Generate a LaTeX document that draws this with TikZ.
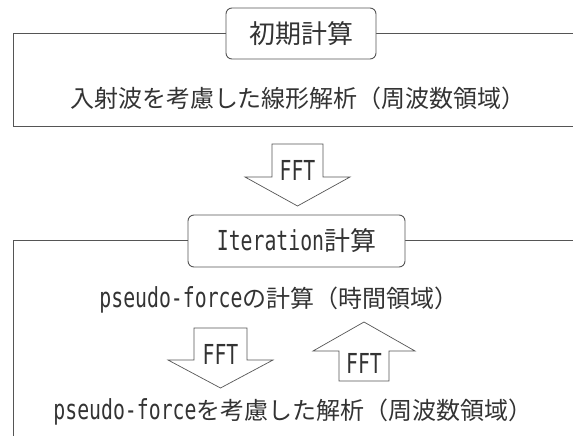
\documentclass[tikz,border=0pt]{standalone}
\usepackage{fontspec}
\setmainfont{Noto Sans CJK JP}
\newfontfamily\latf{DejaVu Sans Mono}[FakeStretch=0.72]
\newcommand\latxt[1]{{\latf\fontsize{27.5}{30}\selectfont #1}}
\definecolor{ln}{HTML}{555555}
\definecolor{tx}{HTML}{333333}
\begin{document}
\begin{tikzpicture}[x=1pt,y=-1pt,
  frame/.style={draw=ln, line width=0.9pt},
  title/.style={draw=ln, line width=0.9pt, fill=white, rounded corners=6pt, text=tx,
                font=\fontsize{26}{30}\selectfont, inner sep=0pt},
  body/.style={text=tx, font=\fontsize{24}{28}\selectfont, inner sep=0pt},
  fftarrow/.style={draw=ln, line width=0.7pt, fill=white, line join=miter},
  fftlabel/.style={text=tx, inner sep=0pt}]
\useasboundingbox (0,0) rectangle (573,436);
\clip (0,0) rectangle (573,436);
% frames (open to the right / bottom)
\draw[frame] (13,33) rectangle (600,126);
\draw[frame] (13,240) rectangle (600,470);
% titles
\node[title, minimum width=150pt, minimum height=51pt] (t1) at (301,33.5) {初期計算};
\node[title, minimum width=217pt, minimum height=52pt] (t2) at (296.5,241) {\latxt{Iteration}計算};
% body texts
\node[body] (b1) at (298,98) {入射波を考慮した線形解析（周波数領域）};
\node[body] (b2) at (279,300) {\latxt{pseudo-force}の計算（時間領域）};
\node[body] (b3) at (293,412) {\latxt{pseudo-force}を考慮した解析（周波数領域）};
% FFT arrows
\draw[fftarrow] (272,144) -- (323,144) -- (323,177) -- (350,177) -- (297.5,206) -- (245,177) -- (272,177) -- cycle;
\node[fftlabel] (f1) at (297.5,170) {\latxt{FFT}};
\draw[fftarrow] (194,328) -- (247,328) -- (247,360) -- (273,360) -- (220.5,388) -- (168,360) -- (194,360) -- cycle;
\node[fftlabel] (f2) at (220.5,354) {\latxt{FFT}};
\draw[fftarrow] (339,381) -- (389,381) -- (389,351) -- (415,351) -- (364,322) -- (313,351) -- (339,351) -- cycle;
\node[fftlabel] (f3) at (364,363) {\latxt{FFT}};
\end{tikzpicture}
\end{document}
